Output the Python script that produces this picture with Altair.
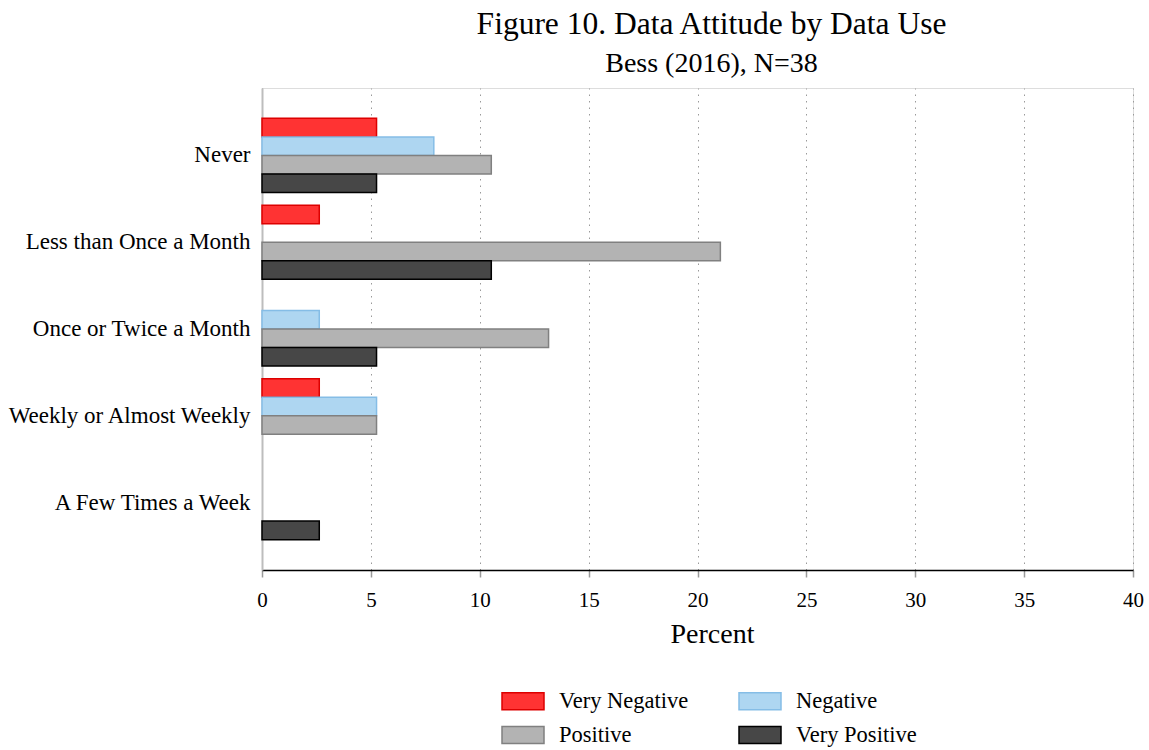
import altair as alt
import pandas as pd

# Survey of 38 respondents: share (%) of each attitude group within each data-use frequency
categories = [
    "Never",
    "Less than Once a Month",
    "Once or Twice a Month",
    "Weekly or Almost Weekly",
    "A Few Times a Week",
]
series = ["Very Negative", "Negative", "Positive", "Very Positive"]

very_negative = [5.26, 2.63, 0.0, 2.63, 0.0]
negative = [7.89, 0.0, 2.63, 5.26, 0.0]
positive = [10.53, 21.05, 13.16, 5.26, 0.0]
very_positive = [5.26, 10.53, 5.26, 0.0, 2.63]

fills = ["#ff3333", "#aed6f1", "#b3b3b3", "#474747"]
strokes = ["#dd0000", "#85bde6", "#808080", "#000000"]
x_ticks = [0, 5, 10, 15, 20, 25, 30, 35, 40]

FONT = "Liberation Serif"

rows = []
for name, values in zip(series, [very_negative, negative, positive, very_positive]):
    for cat, v in zip(categories, values):
        rows.append({"use": cat, "attitude": name, "pct": v})
df = pd.DataFrame(rows)

bars = (
    alt.Chart(df)
    .transform_filter("datum.pct > 0")
    .mark_bar(strokeWidth=1.5)
    .encode(
        x=alt.X(
            "pct:Q",
            scale=alt.Scale(domain=[0, 40], nice=False, zero=True),
            axis=alt.Axis(
                values=x_ticks,
                grid=True,
                gridDash=[1.5, 5],
                gridColor="#9a9a9a",
                gridWidth=1,
                domainColor="black",
                domainWidth=1.5,
                tickColor="#9a9a9a",
                tickSize=7,
                tickWidth=1.5,
                labelFlush=False,
                labelFont=FONT,
                labelFontSize=21,
                labelColor="black",
                labelPadding=12,
                title="Percent",
                titleX=450,
                titleAlign="center",
                titleFont=FONT,
                titleFontSize=28,
                titleFontWeight="normal",
                titleColor="black",
                titlePadding=10,
            ),
        ),
        y=alt.Y(
            "use:N",
            sort=categories,
            scale=alt.Scale(paddingInner=0.145, paddingOuter=0.35),
            axis=alt.Axis(
                title=None,
                ticks=False,
                domain=True,
                domainColor="#bdbdbd",
                domainWidth=2,
                grid=False,
                labelFont=FONT,
                labelFontSize=23,
                labelColor="black",
                labelPadding=12,
                labelLimit=400,
            ),
        ),
        yOffset=alt.YOffset(
            "attitude:N",
            sort=series,
            scale=alt.Scale(domain=series, paddingInner=0, paddingOuter=0),
        ),
        fill=alt.Fill(
            "attitude:N",
            sort=series,
            scale=alt.Scale(domain=series, range=fills),
            legend=alt.Legend(
                title=None,
                orient="none",
                direction="horizontal",
                legendX=239,
                legendY=591,
                columns=2,
                symbolType="M-1,-0.4L1,-0.4L1,0.4L-1,0.4Z",
                symbolSize=1764,
                symbolStrokeWidth=1.5,
                labelFont=FONT,
                labelFontSize=22.5,
                labelColor="black",
                labelOffset=14,
                rowPadding=-7,
                columnPadding=47,
            ),
        ),
        stroke=alt.Stroke(
            "attitude:N",
            sort=series,
            scale=alt.Scale(domain=series, range=strokes),
        ),
    )
)

chart = (
    bars.properties(
        width=871,
        height=482,
        autosize=alt.AutoSizeParams(type="none"),
        padding={"left": 262, "top": 88, "right": 16, "bottom": 180},
        title=alt.TitleParams(
            text="Figure 10. Data Attitude by Data Use",
            subtitle="Bess (2016), N=38",
            anchor="middle",
            dx=14,
            offset=10,
            font=FONT,
            fontSize=31.5,
            fontWeight="normal",
            color="black",
            subtitleFont=FONT,
            subtitleFontSize=28,
            subtitleColor="black",
            subtitlePadding=10,
        ),
    )
    .configure_view(stroke=None)
    .configure(background="white")
)

chart.save("out.html", embed_options={"renderer": "svg", "actions": False})
